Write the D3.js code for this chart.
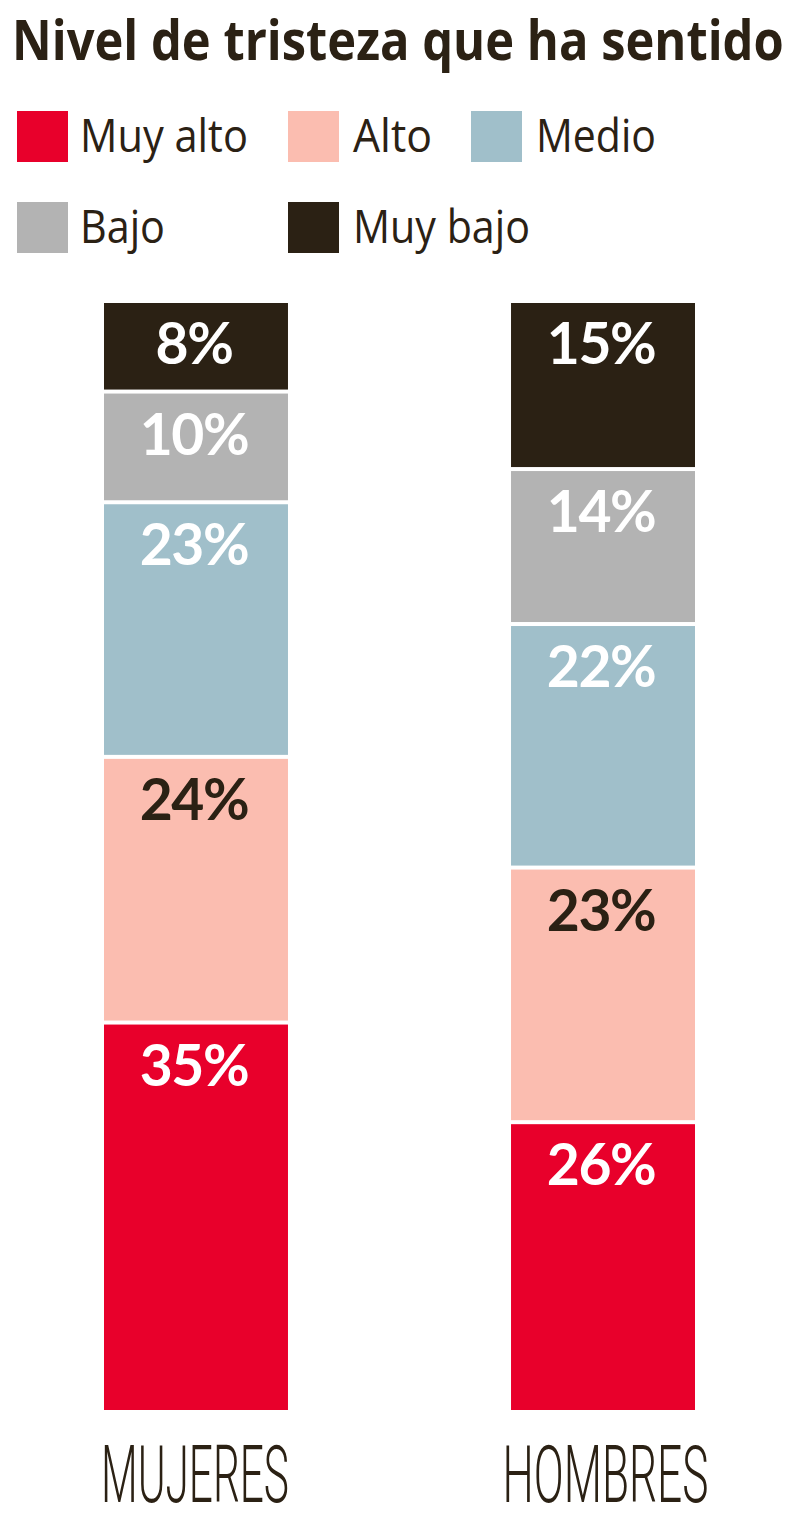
<!DOCTYPE html>
<html>
<head>
<meta charset="utf-8">
<script src="https://cdn.jsdelivr.net/npm/d3@7"></script>
<style>
  html, body { margin: 0; padding: 0; background: #fff; }
  svg { display: block; }
</style>
</head>
<body>
<div id="chart"></div>
<script>
const title = "Nivel de tristeza que ha sentido";
const categories = ["MUJERES", "HOMBRES"];
const levels = ["Muy alto", "Alto", "Medio", "Bajo", "Muy bajo"];
const mujeres = [35, 24, 23, 10, 8];
const hombres = [26, 23, 22, 14, 15];
const colors = ["#e8002b", "#fbbdb0", "#a0bfca", "#b3b3b3", "#2b2114"];
const labelColors = ["#ffffff", "#2b2114", "#ffffff", "#ffffff", "#ffffff"];

const W = 800, H = 1529;
const ink = "#2b2114";
const svg = d3.select("#chart").append("svg").attr("width", W).attr("height", H);

// fit a text horizontally into a given width by scaling on x only
function fitX(sel, x0, y0, w) {
  sel.each(function () {
    const t = d3.select(this);
    const nat = this.getComputedTextLength();
    const s = w / nat;
    t.attr("x", 0).attr("y", 0)
     .attr("transform", `translate(${x0},${y0}) scale(${s},1)`);
  });
}

// Title
svg.append("text")
  .style("font-family", "'Open Sans', 'Noto Sans', sans-serif")
  .style("font-weight", 700).style("font-size", "56px")
  .attr("fill", ink).text(title)
  .call(fitX, 12, 60, 772);

// Legend
const legCols = [17, 288, 471];
const legRows = [111, 202];
const legTextW = [168, 79, 120, 85, 177];
const legItems = levels.map((l, i) => ({ l, i, col: i < 3 ? i : i - 3, row: i < 3 ? 0 : 1 }));
const lg = svg.append("g").selectAll("g").data(legItems).join("g")
  .attr("transform", d => `translate(${legCols[d.col]},${legRows[d.row]})`);
lg.append("rect").attr("width", 51).attr("height", 51).attr("fill", d => colors[d.i]);
lg.append("text")
  .style("font-family", "'Open Sans', 'Noto Sans', sans-serif")
  .style("font-size", "45px").attr("fill", ink)
  .text(d => d.l)
  .each(function (d) {
    d3.select(this).call(fitX, d.col === 0 ? 63 : 65, 41, legTextW[d.i]);
  });

// Scales
const x = d3.scaleBand().domain(categories).range([104, 695]).paddingInner(0.548).paddingOuter(0);
const y = d3.scaleLinear().domain([0, 100]).range([1410, 303]);
const gap = 2;

const series = [mujeres, hombres];
const segs = [];
categories.forEach((c, ci) => {
  let cum = 0;
  series[ci].forEach((v, li) => {
    segs.push({ c, li, v, y0: cum, y1: cum + v, first: li === 0, last: li === levels.length - 1 });
    cum += v;
  });
});

const bars = svg.append("g");
bars.selectAll("rect").data(segs).join("rect")
  .attr("x", d => x(d.c))
  .attr("width", x.bandwidth())
  .attr("y", d => y(d.y1) + (d.last ? 0 : gap))
  .attr("height", d => (y(d.y0) - (d.first ? 0 : gap)) - (y(d.y1) + (d.last ? 0 : gap)))
  .attr("fill", d => colors[d.li]);

bars.selectAll("text").data(segs).join("text")
  .attr("x", d => x(d.c) + x.bandwidth() / 2 - 2)
  .attr("y", d => y(d.y1) + (d.last ? 0 : gap) + 61)
  .attr("text-anchor", "middle")
  .style("font-family", "Lato, 'Open Sans', sans-serif")
  .style("font-weight", 700).style("font-size", "57px")
  .style("letter-spacing", "-1.5px")
  .attr("fill", d => labelColors[d.li])
  .text(d => d.v + "%");

// Category labels
const catW = [188, 206];
svg.append("g").selectAll("text").data(categories).join("text")
  .style("font-family", "Roboto, 'Open Sans', sans-serif")
  .style("font-weight", 300).style("font-size", "80px")
  .attr("fill", ink)
  .text(d => d)
  .each(function (d, i) {
    const x0 = x(d) + x.bandwidth() / 2 + (i === 0 ? -1 : 2.5) - catW[i] / 2;
    d3.select(this).call(fitX, x0, 1502, catW[i]);
  });
</script>
</body>
</html>
